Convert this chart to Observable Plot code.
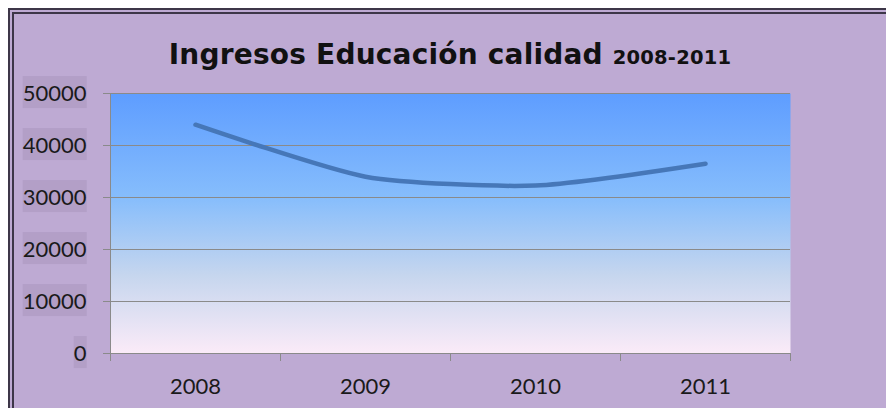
<!DOCTYPE html>
<html>
<head>
<meta charset="utf-8">
<script src="https://cdn.jsdelivr.net/npm/d3@7"></script>
<script src="https://cdn.jsdelivr.net/npm/@observablehq/plot@0.6"></script>
<style>
  html, body { margin: 0; padding: 0; background: #ffffff; }
  body { width: 886px; height: 408px; overflow: hidden; position: relative; }
  #frame {
    position: absolute; left: 8px; top: 8px; right: 0; bottom: 0;
    border-top: 6px double #3d3648; border-left: 6px double #3d3648;
    background: #beaad3;
  }
  #title {
    position: absolute; left: 0; width: 872px; top: 26px; text-align: center;
    font-family: "DejaVu Sans", sans-serif; font-weight: bold; font-size: 28px; line-height: 30px;
    color: #111111; white-space: nowrap; letter-spacing: 0.2px;
  }
  #title .yrs { font-size: 19.5px; }
  #chart { position: absolute; left: 0; top: 64px; }
</style>
</head>
<body>
<div id="frame">
  <div id="title">Ingresos Educación calidad <span class="yrs">2008-2011</span></div>
  <div id="chart"></div>
</div>
<script>
const years = [2008, 2009, 2010, 2011];
const ingresos = [44000, 34000, 32300, 36500];
const yTicks = [0, 10000, 20000, 30000, 40000, 50000];
const gridTicks = [10000, 20000, 30000, 40000, 50000];
const bandEdges = [2007.5, 2008.5, 2009.5, 2010.5, 2011.5];

const data = years.map((y, i) => ({year: y, value: ingresos[i]}));

const plot = Plot.plot({
  width: 872,
  height: 330,
  marginLeft: 96,
  marginRight: 96,
  marginTop: 15,
  marginBottom: 55,
  style: {fontFamily: "Lato, sans-serif", fontSize: "22px", color: "#1a1a1a", background: "transparent", overflow: "visible"},
  x: {type: "linear", domain: [2007.5, 2011.5]},
  y: {domain: [0, 50000]},
  marks: [
    Plot.frame({fill: "url(#bgGrad)", stroke: "none"}),
    Plot.gridY(gridTicks, {stroke: "#8a8a8a", strokeOpacity: 1, strokeWidth: 1}),
    Plot.ruleX([2007.5], {stroke: "#8a8a8a", strokeWidth: 1}),
    Plot.ruleY([0], {stroke: "#8a8a8a", strokeWidth: 1}),
    Plot.axisY(yTicks, {tickSize: 7, tickPadding: 17, stroke: "#8a8a8a", tickFormat: d3.format("d"), label: null, fill: "#1a1a1a"}),
    Plot.axisX(bandEdges, {tickSize: 8, stroke: "#8a8a8a", tickFormat: () => "", label: null}),
    Plot.axisX(years, {tickSize: 0, tickPadding: 25, tickFormat: d => String(d), label: null, fill: "#1a1a1a"}),
    Plot.line(data, {x: "year", y: "value", curve: "cardinal", tension: 0.35, stroke: "#4677b8", strokeWidth: 4.5, strokeLinecap: "round"})
  ]
});

// gradient definition for the plot area
const svg = d3.select(plot);
const defs = svg.insert("defs", ":first-child");
const g = defs.append("linearGradient").attr("id", "bgGrad").attr("x1", 0).attr("y1", 0).attr("x2", 0).attr("y2", 1);
g.append("stop").attr("offset", "0%").attr("stop-color", "#5e9dff");
g.append("stop").attr("offset", "40%").attr("stop-color", "#86bdfc");
g.append("stop").attr("offset", "70%").attr("stop-color", "#c6d6ee");
g.append("stop").attr("offset", "100%").attr("stop-color", "#fbebf8");

document.getElementById("chart").appendChild(plot);

// shaded boxes behind y tick labels
svg.selectAll('g[aria-label="y-axis tick label"] text').each(function() {
  const b = this.getBBox();
  const t = this.getAttribute("transform");
  const cy = b.y + b.height / 2;
  d3.select(this.parentNode).insert("rect", () => this)
    .attr("transform", t)
    .attr("x", b.x).attr("width", b.width)
    .attr("y", cy - 16).attr("height", 32)
    .attr("fill", "#b39fc7").attr("stroke", "none");
});
</script>
</body>
</html>
